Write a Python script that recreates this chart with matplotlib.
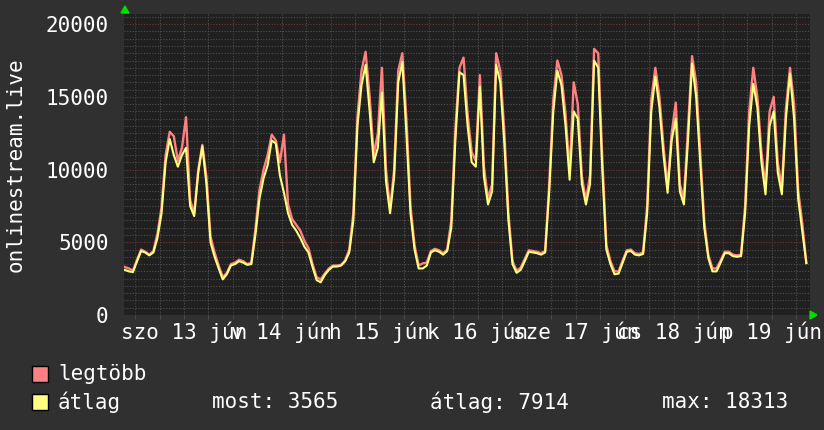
import numpy as np
import matplotlib.pyplot as plt
from matplotlib.patches import Rectangle, Polygon

# hourly samples, hour 0 = jún 13 00:00, first sample at hour -3
start_hour = -3
atlag = [3100, 3000, 2950, 3700, 4400, 4300, 4100, 4300, 5300, 7000,
         10500, 12100, 11000, 10200, 11000, 11500, 7500, 6800, 9800, 11600,
         9000, 5000, 4000, 3200, 2450, 2800, 3400, 3500,
         3700, 3600, 3450, 3500, 5500, 8000, 9400, 10300, 12000, 11800,
         9600, 8400, 7000, 6200, 5800, 5300, 4700, 4300, 3300, 2400,
         2250, 2750, 3100, 3330, 3330, 3400, 3700, 4300, 6500,
         13000, 15800, 17200, 14000, 10500, 11500, 15300, 9200, 7000, 9500,
         16000, 17400, 12500, 7000, 4500, 3200, 3200, 3400, 4300, 4450,
         4350, 4150, 4400, 6000, 12000, 16700, 16500, 13000,
         10500, 10200, 15700, 9500, 7600, 8500, 17200, 16000, 11800, 6500,
         3500, 2900, 3100, 3700, 4350, 4300, 4250, 4150, 4300, 8500,
         14000, 16800, 15800, 13000, 9300, 14000, 13500, 9000, 7600,
         9000, 17500, 17000, 10000, 4500, 3500, 2800, 2850, 3600, 4350,
         4400, 4150, 4100, 4200, 7000, 14000, 16400, 14300, 11000, 8400,
         12000, 13500, 8500, 7600, 12000, 17300, 15000, 10500,
         6000, 3900, 3000, 3000, 3600, 4250, 4250, 4050, 4000, 4050,
         7000, 13000, 15900, 14300, 10500, 8300, 13000, 14000, 9800, 8300,
         13500, 16600, 13500, 8000, 5800, 3565]
legtobb = [3300, 3200, 3050, 3800, 4500, 4350, 4150, 4400, 5600, 7400,
           11000, 12600, 12300, 10600, 11500, 13600, 7900, 7000, 10000, 11700,
           9500, 5400, 4300, 3400, 2600, 2900, 3500, 3600,
           3800, 3700, 3500, 3600, 5900, 8600, 10000, 11000, 12400, 12000,
           10500, 12400, 7600, 6600, 6200, 5800, 5100, 4600, 3500, 2600,
           2450, 2850, 3200, 3400, 3400, 3450, 3750, 4500, 7000,
           13600, 16800, 18100, 15000, 11000, 12500, 17000, 10000, 7300, 10000,
           16800, 18000, 13500, 7500, 4800, 3400, 3550, 3600, 4400, 4550,
           4450, 4250, 4500, 6500, 12800, 17000, 17700, 13800,
           11200, 10600, 16500, 10200, 8000, 9000, 18000, 16800, 12600, 7000,
           3700, 3050, 3250, 3850, 4450, 4400, 4350, 4250, 4400, 9000,
           14800, 17500, 16500, 13800, 9800, 16000, 14500, 9500, 7900,
           9600, 18300, 18000, 10800, 4800, 3700, 3000, 3000, 3750, 4450,
           4500, 4250, 4200, 4300, 7500, 14800, 17000, 15000, 11600, 8800,
           12500, 14600, 9000, 8000, 12800, 17800, 16000, 11200,
           6400, 4100, 3200, 3200, 3750, 4350, 4350, 4150, 4100, 4150,
           7500, 14000, 17000, 15000, 11200, 8800, 14000, 15000, 10500, 8700,
           14200, 17000, 14500, 8600, 6300, 3600]

day_labels = ["szo 13 jún", "v 14 jún", "h 15 jún", "k 16 jún",
              "sze 17 jún", "cs 18 jún", "p 19 jún"]
legend_names = ["legtöbb", "átlag"]
stats = ["most: 3565", "átlag: 7914", "max: 18313"]

BG = "#303030"
PLOT_BG = "#202020"
MAXC = "#ff8080"
AVGC = "#ffff80"
MINOR = "#505050"
MAJOR = "#703535"
TXT = "#ffffff"

plt.rcParams['font.family'] = 'DejaVu Sans Mono'

hours = start_hour + np.arange(len(atlag)) + 0.5

fig = plt.figure(figsize=(8.24, 4.30), dpi=100, facecolor=BG)
ax = fig.add_axes([124 / 824, 1 - 315 / 430, 686 / 824, 301 / 430])
ax.set_facecolor(PLOT_BG)

ax.plot(hours, legtobb, color=MAXC, lw=1.7, zorder=3)
ax.plot(hours, atlag, color=AVGC, lw=1.5, zorder=4)

ax.set_xlim(-2.7, 165.4)
ax.set_ylim(0, 20700)

ax.set_xticks(np.arange(0, 166, 24))
ax.set_xticks(np.arange(0, 166, 6), minor=True)
ax.set_yticks(np.arange(0, 20001, 5000))
ax.set_yticks(np.arange(0, 20700, 500), minor=True)
ax.grid(which='minor', color=MINOR, lw=0.8, ls=(0, (1, 1.5)), zorder=1)
ax.grid(which='major', color=MAJOR, lw=0.8, ls=(0, (1, 1.5)), zorder=2)
ax.set_xticklabels([])
ax.tick_params(axis='x', which='major', length=3, color=MAJOR)
ax.tick_params(axis='x', which='minor', length=3, color=MINOR)
ax.tick_params(axis='y', which='both', length=0, labelsize=15,
               labelcolor=TXT, pad=11)
for s in ax.spines.values():
    s.set_visible(False)

for i, lab in enumerate(day_labels):
    ax.text(12 + 24 * i, -0.058, lab, transform=ax.get_xaxis_transform(),
            ha='center', va='center', fontsize=15, color=TXT, clip_on=False)

ax.set_ylabel("onlinestream.live", fontsize=15, color=TXT)
ax.yaxis.set_label_coords(-98 / 686, 0.5)

# arrows at axis ends
fig.patches.append(Polygon([[121 / 824, 1 - 13 / 430], [129 / 824, 1 - 13 / 430],
                            [125 / 824, 1 - 6 / 430]], closed=True,
                           transform=fig.transFigure, color="#00dd00"))
fig.patches.append(Polygon([[810 / 824, 1 - 311 / 430], [810 / 824, 1 - 319 / 430],
                            [817 / 824, 1 - 315 / 430]], closed=True,
                           transform=fig.transFigure, color="#00dd00"))

# legend
for i, (name, col) in enumerate(zip(legend_names, [MAXC, AVGC])):
    y = 1 - (374 + 28 * i) / 430
    fig.patches.append(Rectangle((32 / 824, y - 8 / 430), 16 / 824, 16 / 430,
                                 transform=fig.transFigure, facecolor=col,
                                 edgecolor='black', lw=1))
    fig.text(58 / 824, y, name, fontsize=15, color=TXT, va='center')

for xp, s in zip([212, 430, 662], stats):
    fig.text(xp / 824, 1 - 402 / 430, s, fontsize=15, color=TXT, va='center')

fig.savefig('out.png', dpi=100, facecolor=BG)
